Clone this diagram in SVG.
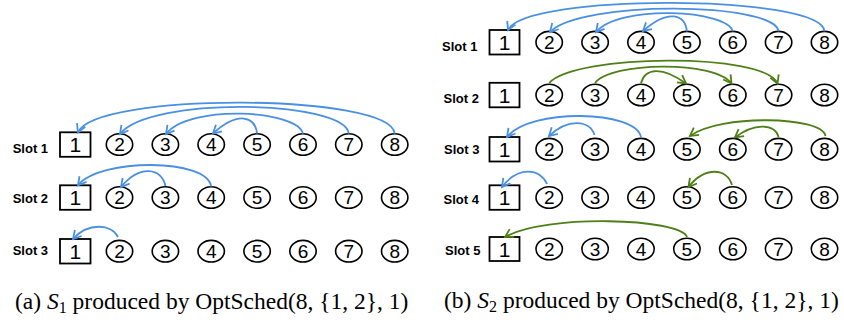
<svg xmlns="http://www.w3.org/2000/svg" width="844" height="322" viewBox="0 0 844 322">
<style>
.lbl{font-family:"Liberation Sans",Arial,sans-serif;font-weight:bold;font-size:13px;fill:#000}
.box{fill:#fff;stroke:#000;stroke-width:1.8}
.nd{fill:#fff;stroke:#000;stroke-width:1.6}
.d{font-family:"Liberation Sans",Arial,sans-serif;font-size:19px;text-anchor:middle;fill:#000}
.d1{font-family:"Liberation Sans",Arial,sans-serif;font-size:21px;text-anchor:middle;fill:#000}
.b{fill:none;stroke:#4a90e2;stroke-width:1.8;marker-end:url(#hb)}
.g{fill:none;stroke:#4f7f17;stroke-width:1.8;marker-end:url(#hg)}
.cap{font-family:"Liberation Serif","Times New Roman",serif;font-size:23.5px;fill:#000}
</style>
<defs>
<marker id="hb" viewBox="-10 -6 12 12" refX="0" refY="0" markerWidth="12" markerHeight="12" markerUnits="userSpaceOnUse" orient="auto"><path d="M-8,-4.5 L0,0 L-8,4.5" fill="none" stroke="#4a90e2" stroke-width="1.8"/></marker>
<marker id="hg" viewBox="-10 -6 12 12" refX="0" refY="0" markerWidth="12" markerHeight="12" markerUnits="userSpaceOnUse" orient="auto"><path d="M-8,-4.5 L0,0 L-8,4.5" fill="none" stroke="#4f7f17" stroke-width="1.8"/></marker>
</defs>
<rect width="844" height="322" fill="#fff"/>

<!-- Left panel labels -->
<text class="lbl" x="12.7" y="153.3">Slot 1</text>
<text class="lbl" x="12.7" y="203.3">Slot 2</text>
<text class="lbl" x="12.7" y="255">Slot 3</text>

<!-- Left slot 1 (cy=144.5) -->
<g id="a1-n1"><rect class="box" x="60" y="132.3" width="30.5" height="24.5"/><text class="d1" x="75.3" y="152">1</text></g>
<g id="a1-n2"><ellipse class="nd" cx="119.5" cy="144.5" rx="13.2" ry="10.8"/><text class="d" x="119.5" y="151.3">2</text></g>
<g id="a1-n3"><ellipse class="nd" cx="165.4" cy="144.5" rx="13.2" ry="10.8"/><text class="d" x="165.4" y="151.3">3</text></g>
<g id="a1-n4"><ellipse class="nd" cx="211.2" cy="144.5" rx="13.2" ry="10.8"/><text class="d" x="211.2" y="151.3">4</text></g>
<g id="a1-n5"><ellipse class="nd" cx="257.1" cy="144.5" rx="13.2" ry="10.8"/><text class="d" x="257.1" y="151.3">5</text></g>
<g id="a1-n6"><ellipse class="nd" cx="303" cy="144.5" rx="13.2" ry="10.8"/><text class="d" x="303" y="151.3">6</text></g>
<g id="a1-n7"><ellipse class="nd" cx="348.8" cy="144.5" rx="13.2" ry="10.8"/><text class="d" x="348.8" y="151.3">7</text></g>
<g id="a1-n8"><ellipse class="nd" cx="394.7" cy="144.5" rx="13.2" ry="10.8"/><text class="d" x="394.7" y="151.3">8</text></g>

<!-- Left slot 2 (cy=197.5) -->
<g id="a2-n1"><rect class="box" x="60" y="185.3" width="30.5" height="24.5"/><text class="d1" x="75.3" y="205">1</text></g>
<g id="a2-n2"><ellipse class="nd" cx="119.5" cy="197.5" rx="13.2" ry="10.8"/><text class="d" x="119.5" y="204.3">2</text></g>
<g id="a2-n3"><ellipse class="nd" cx="165.4" cy="197.5" rx="13.2" ry="10.8"/><text class="d" x="165.4" y="204.3">3</text></g>
<g id="a2-n4"><ellipse class="nd" cx="211.2" cy="197.5" rx="13.2" ry="10.8"/><text class="d" x="211.2" y="204.3">4</text></g>
<g id="a2-n5"><ellipse class="nd" cx="257.1" cy="197.5" rx="13.2" ry="10.8"/><text class="d" x="257.1" y="204.3">5</text></g>
<g id="a2-n6"><ellipse class="nd" cx="303" cy="197.5" rx="13.2" ry="10.8"/><text class="d" x="303" y="204.3">6</text></g>
<g id="a2-n7"><ellipse class="nd" cx="348.8" cy="197.5" rx="13.2" ry="10.8"/><text class="d" x="348.8" y="204.3">7</text></g>
<g id="a2-n8"><ellipse class="nd" cx="394.7" cy="197.5" rx="13.2" ry="10.8"/><text class="d" x="394.7" y="204.3">8</text></g>

<!-- Left slot 3 (cy=251.2) -->
<g id="a3-n1"><rect class="box" x="60" y="239" width="30.5" height="24.5"/><text class="d1" x="75.3" y="258.7">1</text></g>
<g id="a3-n2"><ellipse class="nd" cx="119.5" cy="251.2" rx="13.2" ry="10.8"/><text class="d" x="119.5" y="258">2</text></g>
<g id="a3-n3"><ellipse class="nd" cx="165.4" cy="251.2" rx="13.2" ry="10.8"/><text class="d" x="165.4" y="258">3</text></g>
<g id="a3-n4"><ellipse class="nd" cx="211.2" cy="251.2" rx="13.2" ry="10.8"/><text class="d" x="211.2" y="258">4</text></g>
<g id="a3-n5"><ellipse class="nd" cx="257.1" cy="251.2" rx="13.2" ry="10.8"/><text class="d" x="257.1" y="258">5</text></g>
<g id="a3-n6"><ellipse class="nd" cx="303" cy="251.2" rx="13.2" ry="10.8"/><text class="d" x="303" y="258">6</text></g>
<g id="a3-n7"><ellipse class="nd" cx="348.8" cy="251.2" rx="13.2" ry="10.8"/><text class="d" x="348.8" y="258">7</text></g>
<g id="a3-n8"><ellipse class="nd" cx="394.7" cy="251.2" rx="13.2" ry="10.8"/><text class="d" x="394.7" y="258">8</text></g>

<!-- Right panel labels -->
<text class="lbl" x="442" y="50.7">Slot 1</text>
<text class="lbl" x="443.5" y="102.7">Slot 2</text>
<text class="lbl" x="444" y="154.3">Slot 3</text>
<text class="lbl" x="443.5" y="204.3">Slot 4</text>
<text class="lbl" x="445" y="255">Slot 5</text>

<!-- Right slot 1 (cy=42.2) -->
<g id="b1-n1"><rect class="box" x="489.5" y="30" width="30" height="24.5"/><text class="d1" x="504.5" y="49.7">1</text></g>
<g id="b1-n2"><ellipse class="nd" cx="549.2" cy="42.2" rx="13.2" ry="10.8"/><text class="d" x="549.2" y="49">2</text></g>
<g id="b1-n3"><ellipse class="nd" cx="595.1" cy="42.2" rx="13.2" ry="10.8"/><text class="d" x="595.1" y="49">3</text></g>
<g id="b1-n4"><ellipse class="nd" cx="641" cy="42.2" rx="13.2" ry="10.8"/><text class="d" x="641" y="49">4</text></g>
<g id="b1-n5"><ellipse class="nd" cx="686.9" cy="42.2" rx="13.2" ry="10.8"/><text class="d" x="686.9" y="49">5</text></g>
<g id="b1-n6"><ellipse class="nd" cx="732.8" cy="42.2" rx="13.2" ry="10.8"/><text class="d" x="732.8" y="49">6</text></g>
<g id="b1-n7"><ellipse class="nd" cx="778.6" cy="42.2" rx="13.2" ry="10.8"/><text class="d" x="778.6" y="49">7</text></g>
<g id="b1-n8"><ellipse class="nd" cx="824.5" cy="42.2" rx="13.2" ry="10.8"/><text class="d" x="824.5" y="49">8</text></g>

<!-- Right slot 2 (cy=95) -->
<g id="b2-n1"><rect class="box" x="489.5" y="82.8" width="30" height="24.5"/><text class="d1" x="504.5" y="102.5">1</text></g>
<g id="b2-n2"><ellipse class="nd" cx="549.2" cy="95" rx="13.2" ry="10.8"/><text class="d" x="549.2" y="101.8">2</text></g>
<g id="b2-n3"><ellipse class="nd" cx="595.1" cy="95" rx="13.2" ry="10.8"/><text class="d" x="595.1" y="101.8">3</text></g>
<g id="b2-n4"><ellipse class="nd" cx="641" cy="95" rx="13.2" ry="10.8"/><text class="d" x="641" y="101.8">4</text></g>
<g id="b2-n5"><ellipse class="nd" cx="686.9" cy="95" rx="13.2" ry="10.8"/><text class="d" x="686.9" y="101.8">5</text></g>
<g id="b2-n6"><ellipse class="nd" cx="732.8" cy="95" rx="13.2" ry="10.8"/><text class="d" x="732.8" y="101.8">6</text></g>
<g id="b2-n7"><ellipse class="nd" cx="778.6" cy="95" rx="13.2" ry="10.8"/><text class="d" x="778.6" y="101.8">7</text></g>
<g id="b2-n8"><ellipse class="nd" cx="824.5" cy="95" rx="13.2" ry="10.8"/><text class="d" x="824.5" y="101.8">8</text></g>

<!-- Right slot 3 (cy=149.2) -->
<g id="b3-n1"><rect class="box" x="489.5" y="137" width="30" height="24.5"/><text class="d1" x="504.5" y="156.7">1</text></g>
<g id="b3-n2"><ellipse class="nd" cx="549.2" cy="149.2" rx="13.2" ry="10.8"/><text class="d" x="549.2" y="156">2</text></g>
<g id="b3-n3"><ellipse class="nd" cx="595.1" cy="149.2" rx="13.2" ry="10.8"/><text class="d" x="595.1" y="156">3</text></g>
<g id="b3-n4"><ellipse class="nd" cx="641" cy="149.2" rx="13.2" ry="10.8"/><text class="d" x="641" y="156">4</text></g>
<g id="b3-n5"><ellipse class="nd" cx="686.9" cy="149.2" rx="13.2" ry="10.8"/><text class="d" x="686.9" y="156">5</text></g>
<g id="b3-n6"><ellipse class="nd" cx="732.8" cy="149.2" rx="13.2" ry="10.8"/><text class="d" x="732.8" y="156">6</text></g>
<g id="b3-n7"><ellipse class="nd" cx="778.6" cy="149.2" rx="13.2" ry="10.8"/><text class="d" x="778.6" y="156">7</text></g>
<g id="b3-n8"><ellipse class="nd" cx="824.5" cy="149.2" rx="13.2" ry="10.8"/><text class="d" x="824.5" y="156">8</text></g>

<!-- Right slot 4 (cy=197.5) -->
<g id="b4-n1"><rect class="box" x="489.5" y="185.3" width="30" height="24.5"/><text class="d1" x="504.5" y="205">1</text></g>
<g id="b4-n2"><ellipse class="nd" cx="549.2" cy="197.5" rx="13.2" ry="10.8"/><text class="d" x="549.2" y="204.3">2</text></g>
<g id="b4-n3"><ellipse class="nd" cx="595.1" cy="197.5" rx="13.2" ry="10.8"/><text class="d" x="595.1" y="204.3">3</text></g>
<g id="b4-n4"><ellipse class="nd" cx="641" cy="197.5" rx="13.2" ry="10.8"/><text class="d" x="641" y="204.3">4</text></g>
<g id="b4-n5"><ellipse class="nd" cx="686.9" cy="197.5" rx="13.2" ry="10.8"/><text class="d" x="686.9" y="204.3">5</text></g>
<g id="b4-n6"><ellipse class="nd" cx="732.8" cy="197.5" rx="13.2" ry="10.8"/><text class="d" x="732.8" y="204.3">6</text></g>
<g id="b4-n7"><ellipse class="nd" cx="778.6" cy="197.5" rx="13.2" ry="10.8"/><text class="d" x="778.6" y="204.3">7</text></g>
<g id="b4-n8"><ellipse class="nd" cx="824.5" cy="197.5" rx="13.2" ry="10.8"/><text class="d" x="824.5" y="204.3">8</text></g>

<!-- Right slot 5 (cy=249) -->
<g id="b5-n1"><rect class="box" x="489.5" y="237" width="30" height="24" /><text class="d1" x="504.5" y="256.5">1</text></g>
<g id="b5-n2"><ellipse class="nd" cx="549.2" cy="249" rx="13.2" ry="10.8"/><text class="d" x="549.2" y="255.8">2</text></g>
<g id="b5-n3"><ellipse class="nd" cx="595.1" cy="249" rx="13.2" ry="10.8"/><text class="d" x="595.1" y="255.8">3</text></g>
<g id="b5-n4"><ellipse class="nd" cx="641" cy="249" rx="13.2" ry="10.8"/><text class="d" x="641" y="255.8">4</text></g>
<g id="b5-n5"><ellipse class="nd" cx="686.9" cy="249" rx="13.2" ry="10.8"/><text class="d" x="686.9" y="255.8">5</text></g>
<g id="b5-n6"><ellipse class="nd" cx="732.8" cy="249" rx="13.2" ry="10.8"/><text class="d" x="732.8" y="255.8">6</text></g>
<g id="b5-n7"><ellipse class="nd" cx="778.6" cy="249" rx="13.2" ry="10.8"/><text class="d" x="778.6" y="255.8">7</text></g>
<g id="b5-n8"><ellipse class="nd" cx="824.5" cy="249" rx="13.2" ry="10.8"/><text class="d" x="824.5" y="255.8">8</text></g>

<!-- Connectors -->
<g id="connectors">
  <!-- left slot 1 -->
  <path class="b" d="M394.7,133.7 C392,93 95,92 78,132.3"/>
  <path class="b" d="M348.8,133.7 C345,100 150,96 120,134"/>
  <path class="b" d="M303,133.7 C298,110 190,104 166,134"/>
  <path class="b" d="M257.1,133.7 C255,116 238,111 213,133.5"/>
  <!-- left slot 2 -->
  <path class="b" d="M211.2,186.7 C208,158 100,158 78,185.3"/>
  <path class="b" d="M165.4,186 C162,168 140,164 121,187"/>
  <!-- left slot 3 -->
  <path class="b" d="M118,237 C112,224 88,222 73,239"/>
  <!-- right slot 1 -->
  <path class="b" d="M824.5,31.4 C822,-6 525,-7 508,30"/>
  <path class="b" d="M778.6,31.4 C775,2 580,0 550,32"/>
  <path class="b" d="M732.8,31.4 C728,10 620,4 596,32"/>
  <path class="b" d="M686.9,31.4 C685,14 668,9 643,31"/>
  <!-- right slot 2 -->
  <path class="g" d="M549.2,83 C575,54 765,52 777.5,83.5"/>
  <path class="g" d="M595.1,83 C610,62 715,60 731.5,83.5"/>
  <path class="g" d="M641,83 C645,68 662,66 686,83.5"/>
  <!-- right slot 3 -->
  <path class="b" d="M641,137 C636,110 530,108 507,137"/>
  <path class="b" d="M594.5,135 C590,120 568,118 549,136"/>
  <path class="g" d="M825.5,136 C822,116 720,114 690,136"/>
  <path class="g" d="M778.6,137 C775,124 755,122 735,137.5"/>
  <!-- right slot 4 -->
  <path class="b" d="M547,184 C540,168 518,166 502,187"/>
  <path class="g" d="M732,185 C727,168 705,166 688.5,187"/>
  <!-- right slot 5 -->
  <path class="g" d="M687,237 C680,218 545,214 505,237"/>
</g>

<!-- Captions -->
<text class="cap" x="15" y="308.5">(a) <tspan font-style="italic">S</tspan><tspan font-size="16" dy="4">1</tspan><tspan dy="-4"> produced by OptSched(8, {1, 2}, 1)</tspan></text>
<text class="cap" x="444" y="307.5">(b) <tspan font-style="italic">S</tspan><tspan font-size="16" dy="4">2</tspan><tspan dy="-4"> produced by OptSched(8, {1, 2}, 1)</tspan></text>
</svg>
